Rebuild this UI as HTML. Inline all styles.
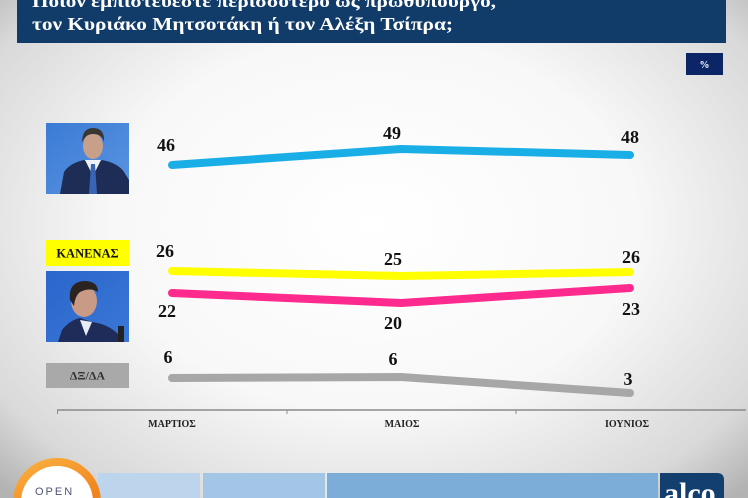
<!DOCTYPE html>
<html><head><meta charset="utf-8"><style>
html,body{margin:0;padding:0;}
body{width:748px;height:498px;overflow:hidden;position:relative;background:radial-gradient(ellipse 70% 75% at 50% 45%,#ffffff 0%,#f8f8f8 50%,#d9d9d9 85%,#b3b3b3 100%);}
svg{display:block;overflow:hidden;}
.clipbox{position:absolute;overflow:hidden;}
.alco{left:660px;top:473px;width:64px;height:25px;}
.alco span{position:absolute;left:4px;top:6px;font:bold 30px/30px "Liberation Serif",serif;color:#fff;white-space:nowrap;}
.open{left:30px;top:484px;width:60px;height:14px;}
.open span{position:absolute;left:5px;top:2px;font:11px/12px "Liberation Sans",sans-serif;color:#4d5578;letter-spacing:2px;white-space:nowrap;}
</style></head><body>
<svg width="748" height="498" viewBox="0 0 748 498" xmlns="http://www.w3.org/2000/svg" font-family="'Liberation Serif','DejaVu Serif',serif">
<defs>
<linearGradient id="p1" x1="0" y1="0" x2="1" y2="1"><stop offset="0" stop-color="#3b7bd6"/><stop offset="1" stop-color="#5b95e0"/></linearGradient>
<linearGradient id="p2" x1="0" y1="0" x2="1" y2="1"><stop offset="0" stop-color="#2a66cc"/><stop offset="1" stop-color="#3a78d6"/></linearGradient>
<linearGradient id="og" x1="0" y1="0" x2="1" y2="1"><stop offset="0" stop-color="#fbb040"/><stop offset="1" stop-color="#f0801a"/></linearGradient>
</defs>
<!-- header -->
<rect x="17" y="0" width="709" height="43" fill="#113c6a"/>
<text x="32" y="7" font-size="18" font-weight="bold" fill="#fff" textLength="464" lengthAdjust="spacingAndGlyphs">Ποιον εμπιστεύεστε περισσότερο ως πρωθυπουργό,</text>
<text x="32" y="30" font-size="18" font-weight="bold" fill="#fff" textLength="421" lengthAdjust="spacingAndGlyphs">τον Κυριάκο Μητσοτάκη ή τον Αλέξη Τσίπρα;</text>
<!-- % box -->
<rect x="686" y="53" width="37" height="22" fill="#0b2567"/>
<text x="704.5" y="68" font-size="10" font-weight="bold" fill="#fff" text-anchor="middle">%</text>

<!-- photo 1 -->
<rect x="46" y="123" width="83" height="71" fill="url(#p1)"/>
<path d="M60 194 L64 172 Q70 163 84 160 L93 166 L102 160 Q118 163 124 172 L129 180 L129 194 Z" fill="#1e2d55"/>
<path d="M85 160 L93 176 L101 160 Z" fill="#eef2f8"/>
<path d="M91 164 L95 164 L97 194 L89 194 Z" fill="#3b63b5"/>
<ellipse cx="93" cy="146" rx="10" ry="13" fill="#c89f88"/>
<path d="M82 143 Q82 128 93 128 Q105 128 104 142 Q102 134 93 134 Q85 134 82 143 Z" fill="#3a3632"/>
<!-- ΚΑΝΕΝΑΣ -->
<rect x="46" y="240" width="83" height="26" fill="#ffff00"/>
<text x="87.5" y="257.5" font-size="12.5" font-weight="bold" fill="#111" text-anchor="middle">ΚΑΝΕΝΑΣ</text>
<!-- photo 2 -->
<rect x="46" y="271" width="83" height="71" fill="url(#p2)"/>
<path d="M58 342 L62 330 Q70 320 80 318 L92 322 Q108 324 118 334 L122 342 Z" fill="#1f2b58"/>
<path d="M80 320 L86 336 L92 322 Z" fill="#e8ecf4"/>
<ellipse cx="84" cy="301" rx="13" ry="16" fill="#c99a86"/>
<path d="M70 300 Q68 282 84 281 Q98 281 98 292 Q90 287 80 292 Q75 296 74 306 Z" fill="#2a2320"/>
<rect x="118" y="326" width="6" height="16" fill="#222"/>
<!-- ΔΞ/ΔΑ -->
<rect x="46" y="363" width="83" height="25" fill="#a9a9a9"/>
<text x="87.5" y="379.5" font-size="12" font-weight="bold" fill="#333" text-anchor="middle">ΔΞ/ΔΑ</text>

<!-- series -->
<g fill="none" stroke-width="8" stroke-linecap="round" stroke-linejoin="round">
<polyline points="172,165 401,149 630,155" stroke="#1aaee6"/>
<polyline points="172,271 401,276 630,272" stroke="#ffff00"/>
<polyline points="172,293 401,303 630,288" stroke="#ff2a8d"/>
<polyline points="172,378 401,377 630,393" stroke="#a7a7a7"/>
</g>
<g font-size="18" font-weight="bold" fill="#111" text-anchor="middle">
<text x="166" y="151">46</text>
<text x="392" y="139">49</text>
<text x="630" y="143">48</text>
<text x="165" y="257">26</text>
<text x="393" y="265">25</text>
<text x="631" y="263">26</text>
<text x="167" y="317">22</text>
<text x="393" y="329">20</text>
<text x="631" y="315">23</text>
<text x="168" y="363">6</text>
<text x="393" y="365">6</text>
<text x="628" y="385">3</text>
</g>

<!-- axis -->
<line x1="57" y1="410" x2="746" y2="410" stroke="#8a8a8a" stroke-width="1.5"/>
<g stroke="#8a8a8a" stroke-width="1"><line x1="57.5" y1="410" x2="57.5" y2="414"/><line x1="287" y1="410" x2="287" y2="414"/><line x1="516" y1="410" x2="516" y2="414"/></g>
<g font-size="10" font-weight="bold" fill="#222" text-anchor="middle">
<text x="172" y="427">ΜΑΡΤΙΟΣ</text>
<text x="402" y="427">ΜΑΙΟΣ</text>
<text x="627" y="427">ΙΟΥΝΙΟΣ</text>
</g>

<!-- bottom bar -->
<rect x="98" y="473" width="102" height="25" fill="#bcd5ec"/>
<rect x="203" y="473" width="122" height="25" fill="#a3c6e6"/>
<rect x="327" y="473" width="331" height="25" fill="#7badd8"/>
<path d="M660 473 L717 473 Q724 473 724 480 L724 498 L660 498 Z" fill="#133f6e"/>
<!-- OPEN logo (visible part of circle) -->
<path d="M17.2 498 A40 40 0 0 1 96.8 498 Z" fill="#ffffff"/>
<path d="M17.2 498 A40 40 0 0 1 96.8 498" fill="none" stroke="url(#og)" stroke-width="8"/>
</svg>
<div class="clipbox alco"><span>alco</span></div>
<div class="clipbox open"><span>OPEN</span></div>
</body></html>
